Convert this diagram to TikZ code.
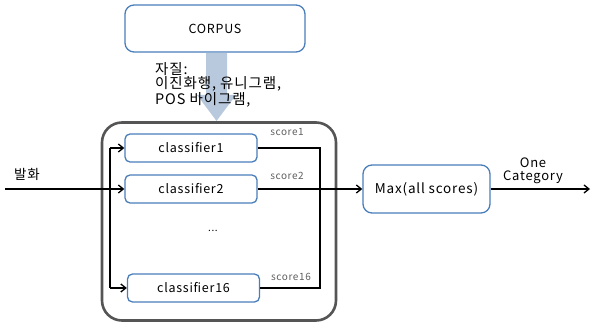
\documentclass[tikz,border=0pt]{standalone}
\usepackage{fontspec}
\setmainfont{Noto Sans CJK KR}[LetterSpace=6]
\usetikzlibrary{arrows.meta}
\usetikzlibrary{math}

\definecolor{boxblue}{HTML}{4A7EBB}
\definecolor{framegray}{HTML}{555555}
\definecolor{feedfill}{HTML}{B9C9DD}
\definecolor{scoregray}{HTML}{606060}

\tikzset{
  clsbox/.style={draw=boxblue, line width=1.3pt, rounded corners=5pt, fill=white,
    minimum width=132pt, minimum height=28pt, font=\fontsize{12.5}{14}\selectfont},
  scorelbl/.style={text=scoregray, font=\fontsize{10}{11}\selectfont, inner sep=0pt},
  wire/.style={line width=1.4pt},
  tip/.style={-{Straight Barb[length=5pt,width=8pt,line width=1.3pt]}},
}

\begin{document}
\begin{tikzpicture}[x=1pt,y=-1pt]
\useasboundingbox (0,0) rectangle (591,323);

\tikzmath{
\busx = 110;
\sumx = 320;
\ya = 148;
\yb = 189;
\yc = 288;
}

%corpus and feature arrow
\node[draw=boxblue, line width=1.3pt, rounded corners=9pt, fill=white,
  minimum width=180pt, minimum height=47pt, font=\fontsize{12.5}{14}\selectfont]
  (corpus) at (215,28.5) {CORPUS};
\fill[feedfill] (206,53) -- (227,53) -- (227,95) -- (236,95) -- (216.5,121)
  -- (197,95) -- (206,95) -- cycle;
\node[align=left, anchor=north west, inner sep=0pt, font=\fontsize{14.5}{14.5}\selectfont]
  (feat) at (155,62) {자질:\\이진화행, 유니그램,\\POS 바이그램,};

%ensemble
\node[draw=framegray, line width=2.6pt, rounded corners=20pt,
  minimum width=234pt, minimum height=198pt] (ens) at (219,221.5) {};
\node[clsbox] (cls1) at (191,\ya) {classifier1};
\node[clsbox] (cls2) at (191,\yb) {classifier2};
\node[clsbox] (cls16) at (193.5,\yc) {classifier16};
\node[font=\fontsize{10}{11}\selectfont] (dots) at (213,231) {...};

\node[scorelbl] (s1) at (287,132) {score1};
\node[scorelbl] (s2) at (287,176) {score2};
\node[scorelbl] (s16) at (291,277) {score16};

%input
\coordinate (in) at (5,\yb);
\coordinate (busa) at (\busx,\ya);
\coordinate (busb) at (\busx,\yc);
\node[font=\fontsize{13.5}{15}\selectfont] (utt) at (27,174) {발화};
\draw[wire, tip] (in) -- (cls2.west);
\draw[wire] (busa) -- (busb);
\draw[wire, tip] (busa) -- (cls1.west);
\draw[wire, tip] (busb) -- (cls16.west);

%scores to max
\draw[wire] (cls1.east) -- (\sumx,\ya) -- (\sumx,\yc) -- (cls16.east);
\node[draw=boxblue, line width=1.3pt, rounded corners=9pt, fill=white,
  minimum width=127pt, minimum height=48pt, font=\fontsize{13.5}{15}\selectfont]
  (max) at (426.5,\yb) {Max(all scores)};
\draw[wire, tip] (cls2.east) -- (max.west);

%output
\coordinate (out) at (590,\yb);
\draw[wire, tip] (max.east) -- (out);
\node[align=center, font=\fontsize{13}{13.5}\selectfont] (cat) at (533,171) {One\\Category};

\end{tikzpicture}
\end{document}
